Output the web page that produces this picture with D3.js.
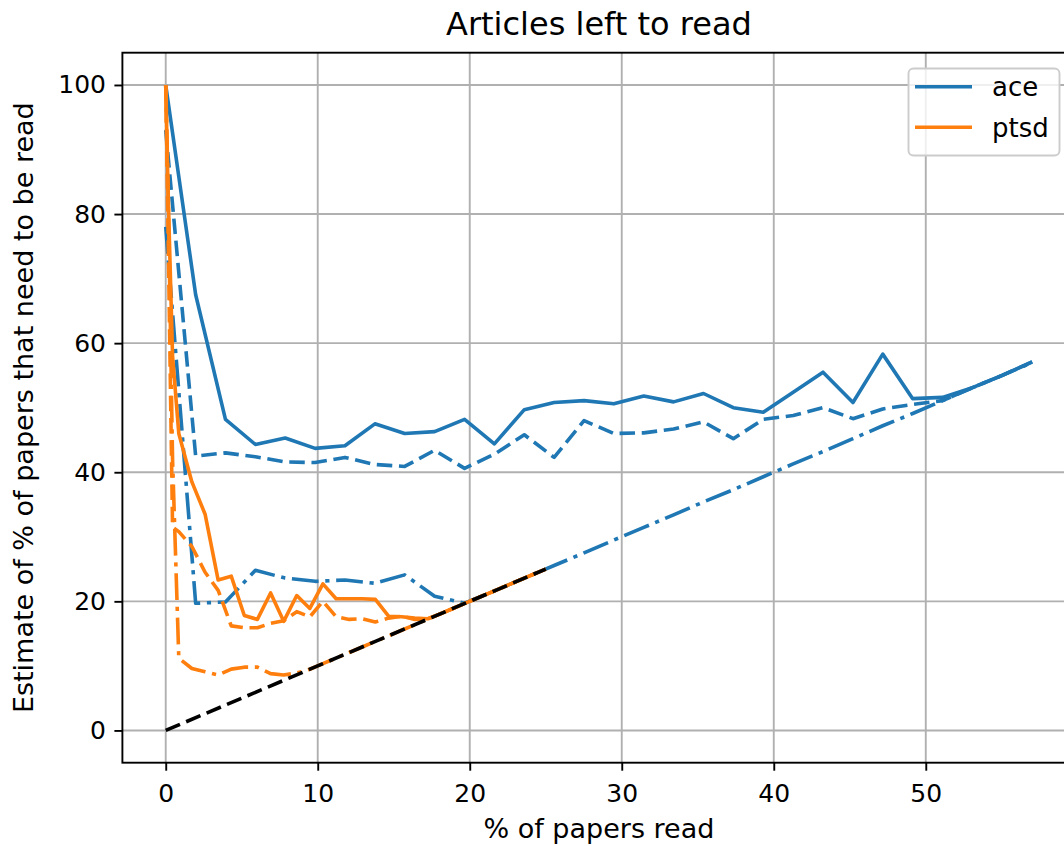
<!DOCTYPE html>
<html>
<head>
<meta charset="utf-8">
<script src="https://cdn.jsdelivr.net/npm/d3@7"></script>
<style>
  body { margin: 0; background: #fff; }
  svg { display: block; font-family: "DejaVu Sans", sans-serif; }
  .grid line { stroke: #b0b0b0; stroke-width: 1.9; }
  .tick text { fill: #000; }
</style>
</head>
<body>
<div id="chart"></div>
<script>
// ace: 30 checkpoints up to 57 % read
var aceX = [0, 1.97, 3.93, 5.9, 7.86, 9.83, 11.79, 13.76, 15.72, 17.69, 19.66, 21.62, 23.59, 25.55, 27.52,
    29.48, 31.45, 33.41, 35.38, 37.34, 39.31, 41.28, 43.24, 45.21, 47.17, 49.14, 51.1, 53.07, 55.03, 57];
var aceSolid = [100, 67.5, 48.2, 44.3, 45.3, 43.7, 44.1, 47.5, 46.0, 46.3, 48.2, 44.4, 49.7, 50.8, 51.1,
    50.6, 51.8, 50.9, 52.2, 50.0, 49.3, 52.4, 55.5, 50.8, 58.3, 51.4, 51.6, 53.1, 55.0, 57.1];
var aceDashed = [93, 42.5, 43.0, 42.4, 41.6, 41.5, 42.3, 41.2, 40.9, 43.4, 40.6, 42.8, 45.8, 42.3, 48.0,
    46.0, 46.1, 46.7, 47.8, 45.2, 48.2, 48.8, 50.0, 48.3, 49.8, 50.5, 51.1, 53.1, 55.0, 57.1];
var aceDashdot = [78, 19.7, 19.9, 24.8, 23.6, 23.1, 23.3, 22.8, 24.1, 20.8, 19.7, 21.6, 23.6, 25.55, 27.5,
    29.5, 31.45, 33.4, 35.4, 37.3, 39.3, 41.3, 43.2, 45.2, 47.2, 49.1, 51.1, 53.1, 55.0, 57.0];

// ptsd: denser checkpoints up to 25 % read
var ptsdX = [0, 0.15, 0.45, 0.86, 1.72, 2.59, 3.45, 4.31, 5.17, 6.03, 6.9, 7.76, 8.62, 9.48, 10.34, 11.21,
    12.07, 12.93, 13.79, 14.66, 15.52, 16.38, 17.24, 18.1, 18.97, 19.83, 20.69, 21.55, 22.41, 23.28, 24.14, 25];
var ptsdSolid = [100, 84, 58, 46, 38.5, 33.5, 23.3, 23.9, 17.8, 17.2, 21.3, 16.9, 20.9, 18.9, 22.7, 20.4,
    20.4, 20.4, 20.3, 17.7, 17.6, 17.4, 17.3, 18.1, 18.97, 19.83, 20.69, 21.55, 22.41, 23.28, 24.14, 25];
var ptsdDashed = [100, 78, 31.5, 30.8, 28.5, 24.5, 21.7, 16.2, 15.9, 15.9, 16.6, 17.0, 18.4, 17.6, 20.0, 17.6,
    17.2, 17.3, 16.8, 17.4, 17.7, 17.2, 17.3, 18.1, 18.97, 19.83, 20.69, 21.55, 22.41, 23.28, 24.14, 25];
var ptsdDashdot = [100, 85, 42, 11.2, 9.6, 9.1, 8.6, 9.5, 9.8, 9.8, 8.8, 8.6, 8.9, 9.48, 10.34, 11.21,
    12.07, 12.93, 13.79, 14.66, 15.52, 16.38, 17.24, 18.1, 18.97, 19.83, 20.69, 21.55, 22.41, 23.28, 24.14, 25];

// reference: reading everything left
var refX = [0, 25];
var refY = [0, 25];

var xTicks = [0, 10, 20, 30, 40, 50];
var yTicks = [0, 20, 40, 60, 80, 100];
var legendLabels = ["ace", "ptsd"];

var W = 1064, H = 846;
var m = {left: 122.4, right: 1075.5, top: 52.7, bottom: 762.7};
var blue = "#1f77b4", orange = "#ff7f0e";
var dashed = "15.5,6.7", dashdot = "26.8,6.7,4.2,6.7";

var x = d3.scaleLinear().domain([-2.85, 59.85]).range([m.left, m.right]);
var y = d3.scaleLinear().domain([-5, 105]).range([m.bottom, m.top]);

var svg = d3.select("#chart").append("svg")
    .attr("width", W)
    .attr("height", H);

svg.append("rect").attr("width", W).attr("height", H).attr("fill", "#fff");

// grid
var grid = svg.append("g").attr("class", "grid");
grid.selectAll(".gx").data(xTicks).enter().append("line")
    .attr("x1", function(d) { return x(d); }).attr("x2", function(d) { return x(d); })
    .attr("y1", m.top).attr("y2", m.bottom);
grid.selectAll(".gy").data(yTicks).enter().append("line")
    .attr("y1", function(d) { return y(d); }).attr("y2", function(d) { return y(d); })
    .attr("x1", m.left).attr("x2", m.right);

// lines
var series = [
    {xs: aceX, ys: aceSolid, color: blue, dash: null},
    {xs: aceX, ys: aceDashed, color: blue, dash: dashed},
    {xs: aceX, ys: aceDashdot, color: blue, dash: dashdot},
    {xs: ptsdX, ys: ptsdSolid, color: orange, dash: null},
    {xs: ptsdX, ys: ptsdDashed, color: orange, dash: dashed},
    {xs: ptsdX, ys: ptsdDashdot, color: orange, dash: dashdot},
    {xs: refX, ys: refY, color: "#000", dash: dashed}
];

var line = d3.line()
    .x(function(d) { return x(d[0]); })
    .y(function(d) { return y(d[1]); });

svg.append("g").selectAll("path").data(series).enter().append("path")
    .attr("d", function(s) { return line(d3.zip(s.xs, s.ys)); })
    .attr("fill", "none")
    .attr("stroke", function(s) { return s.color; })
    .attr("stroke-width", 3.6)
    .attr("stroke-linejoin", "round")
    .attr("stroke-dasharray", function(s) { return s.dash; });

// axes
var xAxis = svg.append("g")
    .attr("transform", "translate(0," + m.bottom + ")")
    .call(d3.axisBottom(x).tickValues(xTicks).tickSize(8).tickPadding(14).tickFormat(d3.format("d")));
var yAxis = svg.append("g")
    .attr("transform", "translate(" + m.left + ",0)")
    .call(d3.axisLeft(y).tickValues(yTicks).tickSize(8).tickPadding(8.4).tickFormat(d3.format("d")));
[xAxis, yAxis].forEach(function(a) {
    a.select(".domain").remove();
    a.selectAll(".tick line").attr("stroke", "#000").attr("stroke-width", 1.9);
    a.selectAll(".tick text").style("font-size", "25px").style("font-family", "DejaVu Sans");
});

// spines
svg.append("rect")
    .attr("x", m.left).attr("y", m.top)
    .attr("width", m.right - m.left).attr("height", m.bottom - m.top)
    .attr("fill", "none").attr("stroke", "#000").attr("stroke-width", 1.9);

// title & labels
svg.append("text")
    .attr("x", (m.left + m.right) / 2).attr("y", 35)
    .attr("text-anchor", "middle").style("font-size", "32px")
    .text("Articles left to read");

svg.append("text")
    .attr("x", (m.left + m.right) / 2).attr("y", 838)
    .attr("text-anchor", "middle").style("font-size", "27px")
    .text("% of papers read");

svg.append("text")
    .attr("transform", "translate(33," + ((m.top + m.bottom) / 2) + ") rotate(-90)")
    .attr("text-anchor", "middle").style("font-size", "27px")
    .text("Estimate of % of papers that need to be read");

// legend
var legend = svg.append("g");
legend.append("rect")
    .attr("x", 908.5).attr("y", 68.5).attr("width", 151).attr("height", 87)
    .attr("rx", 5).attr("fill", "#fff").attr("fill-opacity", 0.8)
    .attr("stroke", "#cccccc").attr("stroke-width", 1.9);
var items = legend.selectAll(".item").data(legendLabels).enter().append("g")
    .attr("transform", function(d, i) { return "translate(0," + (86.7 + i * 40.6) + ")"; });
items.append("line")
    .attr("x1", 915).attr("x2", 972)
    .attr("stroke", function(d, i) { return i === 0 ? blue : orange; })
    .attr("stroke-width", 3.6);
items.append("text")
    .attr("x", 992).attr("y", 9.5)
    .style("font-size", "26px")
    .text(function(d) { return d; });
</script>
</body>
</html>
